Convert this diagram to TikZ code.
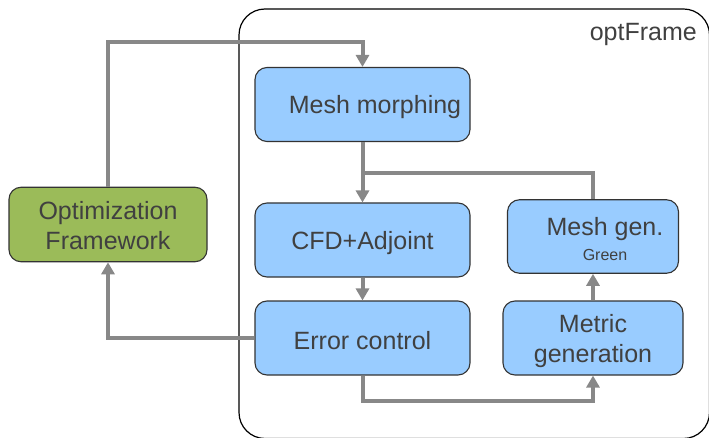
\documentclass[tikz,border=0pt]{standalone}
\usepackage{fontspec}
\setmainfont{Liberation Sans}
\usetikzlibrary{arrows.meta}
\definecolor{boxblue}{HTML}{99CCFF}
\definecolor{boxgreen}{HTML}{9BBB59}
\definecolor{txtgray}{HTML}{404040}
\definecolor{linegray}{HTML}{888888}
\definecolor{edgegray}{HTML}{333333}

\begin{document}
\begin{tikzpicture}[x=1pt, y=-1pt,
    box/.style={draw=edgegray, line width=1.1pt, fill=boxblue, rounded corners=12pt, inner sep=0pt},
    greenbox/.style={box, fill=boxgreen},
    txt/.style={text=txtgray, align=center, inner sep=0pt, yshift=-3pt,
        font=\fontsize{25}{30}\selectfont},
    conn/.style={draw=linegray, line width=4pt},
    arr/.style={conn, -{Triangle[width=13pt, length=12pt]}}]

    \useasboundingbox (0,0) rectangle (709,438);
    \clip (0,0) rectangle (709,438);

    \draw [line width=1.2pt, rounded corners=26pt] (239,9) rectangle (709.5,438.5);
    \node [txt, anchor=east, yshift=2pt] (title) at (697,33) {optFrame};

    \node [greenbox, minimum width=198pt, minimum height=74.5pt,
        label={[txt, yshift=2pt]center:Optimization\\Framework}] (opt) at (108,224.5) {};
    \node [box, minimum width=215pt, minimum height=74pt,
        label={[txt, xshift=12.5pt]center:Mesh morphing}] (morph) at (362.5,104.5) {};
    \node [box, minimum width=215pt, minimum height=74pt,
        label={[txt]center:CFD+Adjoint}] (cfd) at (362.5,240) {};
    \node [box, minimum width=215pt, minimum height=74pt,
        label={[txt]center:Error control}] (err) at (362.5,338) {};
    \node [box, minimum width=171pt, minimum height=73.5pt,
        label={[txt, xshift=12pt]center:Mesh gen.\\[-5pt]{\fontsize{16}{18}\selectfont Green}}] (gen) at (593,236.5) {};
    \node [box, minimum width=180pt, minimum height=74pt,
        label={[txt]center:Metric\\generation}] (metric) at (593,338) {};

    \coordinate (top) at (362.5,41.7);
    \coordinate (jn) at (362.5,173.3);
    \coordinate (bot) at (362.5,401);

    \draw [arr] (opt.north) |- (top) -- (morph.north);
    \draw [arr] (morph.south) -- (cfd.north);
    \draw [conn] (gen.north) |- (jn);
    \draw [arr] (cfd.south) -- (err.north);
    \draw [arr] (err.west) -| (opt.south);
    \draw [arr] (err.south) -- (bot) -| (metric.south);
    \draw [arr] (metric.north) -- (gen.south);

\end{tikzpicture}
\end{document}
